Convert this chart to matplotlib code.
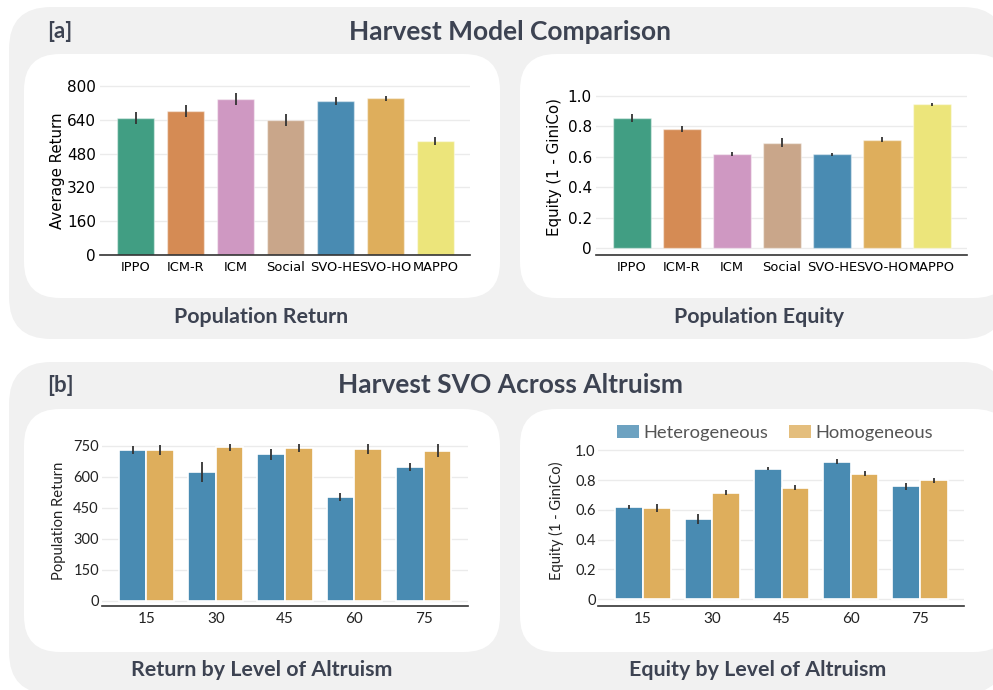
import matplotlib
matplotlib.use("Agg")
import matplotlib.pyplot as plt
from matplotlib.patches import FancyBboxPatch, Patch
import numpy as np

# ---------------- data ----------------
models = ["IPPO", "ICM-R", "ICM", "Social", "SVO-HE", "SVO-HO", "MAPPO"]
model_colors = ["#419e83", "#d58b54", "#cf98c2", "#c9a68a", "#498bb2", "#deae5c", "#ece57b"]
pop_return = [648, 682, 737, 640, 729, 742, 540]
pop_return_err = [28, 27, 28, 28, 18, 12, 18]
pop_equity = [0.852, 0.784, 0.618, 0.692, 0.616, 0.712, 0.943]
pop_equity_err = [0.026, 0.020, 0.011, 0.030, 0.011, 0.016, 0.012]

altruism = ["15", "30", "45", "60", "75"]
groups = ["Heterogeneous", "Homogeneous"]
group_colors = ["#498bb2", "#deae5c"]
ret_het = [730, 622, 709, 501, 649]
ret_het_err = [20, 48, 26, 19, 18]
ret_hom = [730, 743, 741, 735, 727]
ret_hom_err = [24, 15, 21, 26, 31]
eq_het = [0.619, 0.538, 0.877, 0.922, 0.758]
eq_het_err = [0.012, 0.034, 0.009, 0.016, 0.024]
eq_hom = [0.612, 0.715, 0.749, 0.843, 0.798]
eq_hom_err = [0.028, 0.016, 0.015, 0.017, 0.015]

ret_ticks = [0, 160, 320, 480, 640, 800]
eq_ticks = [0, 0.2, 0.4, 0.6, 0.8, 1.0]
eq_ticklabels = ["0", "0.2", "0.4", "0.6", "0.8", "1.0"]
alt_ret_ticks = [0, 150, 300, 450, 600, 750]

W, H = 993, 690
fig = plt.figure(figsize=(W / 100, H / 100), dpi=100)
fig.patch.set_facecolor("white")

# background axis in pixel coordinates
bg = fig.add_axes([0, 0, 1, 1])
bg.set_xlim(0, W)
bg.set_ylim(H, 0)
bg.axis("off")

GRAY = "#f1f1f1"
TXT = "#3d4352"

def rbox(x0, y0, x1, y1, r, color):
    bg.add_patch(FancyBboxPatch((x0, y0), x1 - x0, y1 - y0,
                                boxstyle=f"round,pad=0,rounding_size={r}",
                                facecolor=color, edgecolor="none"))

rbox(9, 7, 1005, 339, 42, GRAY)
rbox(9, 362, 1005, 694, 42, GRAY)
rbox(24, 54, 500, 298, 36, "white")
rbox(520, 54, 1010, 298, 36, "white")
rbox(24, 409, 500, 652, 36, "white")
rbox(520, 409, 1010, 652, 36, "white")

tfont = "Lato"
bg.text(47, 32, "[a]", fontsize=16, color=TXT, family=tfont, weight="bold", ha="left", va="center")
bg.text(510, 32, "Harvest Model Comparison", fontsize=19, color=TXT, family=tfont, weight="bold", ha="center", va="center")
bg.text(261.5, 317, "Population Return", fontsize=15.4, color=TXT, family=tfont, weight="bold", ha="center", va="center")
bg.text(758.5, 317, "Population Equity", fontsize=15.4, color=TXT, family=tfont, weight="bold", ha="center", va="center")
bg.text(47, 385, "[b]", fontsize=16, color=TXT, family=tfont, weight="bold", ha="left", va="center")
bg.text(510, 385, "Harvest SVO Across Altruism", fontsize=19, color=TXT, family=tfont, weight="bold", ha="center", va="center")
bg.text(261.5, 670, "Return by Level of Altruism", fontsize=15.4, color=TXT, family=tfont, weight="bold", ha="center", va="center")
bg.text(758, 670, "Equity by Level of Altruism", fontsize=15.4, color=TXT, family=tfont, weight="bold", ha="center", va="center")

def add_ax(l, r, bottom_px, top_px):
    return fig.add_axes([l / W, 1 - bottom_px / H, (r - l) / W, (bottom_px - top_px) / H])

def style(ax):
    for s in ["left", "right", "top"]:
        ax.spines[s].set_visible(False)
    ax.spines["bottom"].set_color("#333333")
    ax.spines["bottom"].set_linewidth(1.2)
    ax.set_facecolor("none")
    ax.grid(axis="y", color="#ebebeb", linewidth=1.0)
    ax.set_axisbelow(True)
    ax.tick_params(length=0)

err_kw = dict(ecolor="#333333", elinewidth=1.3, capsize=0)

# ---------- top-left ----------
ax1 = add_ax(100, 470, 255, 81.8)
x = np.arange(len(models))
ax1.bar(x, pop_return, width=0.75, color=model_colors, edgecolor=(1, 1, 1, 0.45), linewidth=1,
        yerr=pop_return_err, error_kw=err_kw)
ax1.set_xlim(-0.71, 6.69)
ax1.set_ylim(0, 820)
ax1.set_yticks(ret_ticks)
ax1.set_xticks(x)
ax1.set_xticklabels(models, fontsize=9.4)
ax1.tick_params(axis="y", labelsize=11, pad=3)
ax1.tick_params(axis="x", pad=4)
ax1.set_ylabel("Average Return", fontsize=10.8)
ax1.yaxis.set_label_coords(-0.095, 0.486)
style(ax1)

# ---------- top-right ----------
ax2 = add_ax(596, 967, 255, 91.1)
ax2.bar(x, pop_equity, width=0.75, color=model_colors, edgecolor=(1, 1, 1, 0.45), linewidth=1,
        yerr=pop_equity_err, error_kw=err_kw)
ax2.set_xlim(-0.72, 6.7)
ax2.set_ylim(-0.044, 1.03)
ax2.set_yticks(eq_ticks)
ax2.set_yticklabels(eq_ticklabels)
ax2.set_xticks(x)
ax2.set_xticklabels(models, fontsize=9.4)
ax2.tick_params(axis="y", labelsize=11, pad=3)
ax2.tick_params(axis="x", pad=4)
ax2.set_ylabel("Equity (1 - GiniCo)", fontsize=10.8)
ax2.yaxis.set_label_coords(-0.0925, 0.536)
style(ax2)

# ---------- bottom ----------
bfont = "Lato"
xa = np.arange(len(altruism))
bw = 0.4

def grouped(ax, het, het_err, hom, hom_err):
    ax.bar(xa - bw / 2, het, width=bw, color=group_colors[0], edgecolor="white", linewidth=1.2,
           yerr=het_err, error_kw=err_kw)
    ax.bar(xa + bw / 2, hom, width=bw, color=group_colors[1], edgecolor="white", linewidth=1.2,
           yerr=hom_err, error_kw=err_kw)
    ax.set_xticks(xa)
    ax.set_xticklabels(altruism)
    ax.set_xlim(-0.646, 4.64)
    for lab in ax.get_xticklabels() + ax.get_yticklabels():
        lab.set_family(bfont)
        lab.set_color("#222222")
    ax.tick_params(axis="x", labelsize=11, pad=4)
    ax.tick_params(axis="y", labelsize=10.5, pad=2)
    style(ax)

ax3 = add_ax(101.7, 468, 606, 439.8)
ax3.set_yticks(alt_ret_ticks)
ax3.set_ylim(-26, 780)
grouped(ax3, ret_het, ret_het_err, ret_hom, ret_hom_err)
ax3.set_ylabel("Population Return", fontsize=10.6, family=bfont, color="#222222")
ax3.yaxis.set_label_coords(-0.098, 0.51)

ax4 = add_ax(598.3, 964.3, 606, 445.8)
ax4.set_yticks(eq_ticks)
ax4.set_yticklabels(eq_ticklabels)
ax4.set_ylim(-0.047, 1.03)
grouped(ax4, eq_het, eq_het_err, eq_hom, eq_hom_err)
ax4.set_ylabel("Equity (1 - GiniCo)", fontsize=10.5, family=bfont, color="#222222")
ax4.yaxis.set_label_coords(-0.095, 0.535)

handles = [Patch(facecolor=c, edgecolor="none", alpha=0.8) for c in group_colors]
leg = fig.legend(handles, groups, loc="center", bbox_to_anchor=(775 / W, 1 - 433 / H), ncol=2,
                 frameon=False, handlelength=1.2, handleheight=0.75,
                 handletextpad=0.25, columnspacing=1.1, prop={"family": bfont, "size": 13.2})
for t in leg.get_texts():
    t.set_color("#555555")

fig.savefig("out.png", dpi=100)
